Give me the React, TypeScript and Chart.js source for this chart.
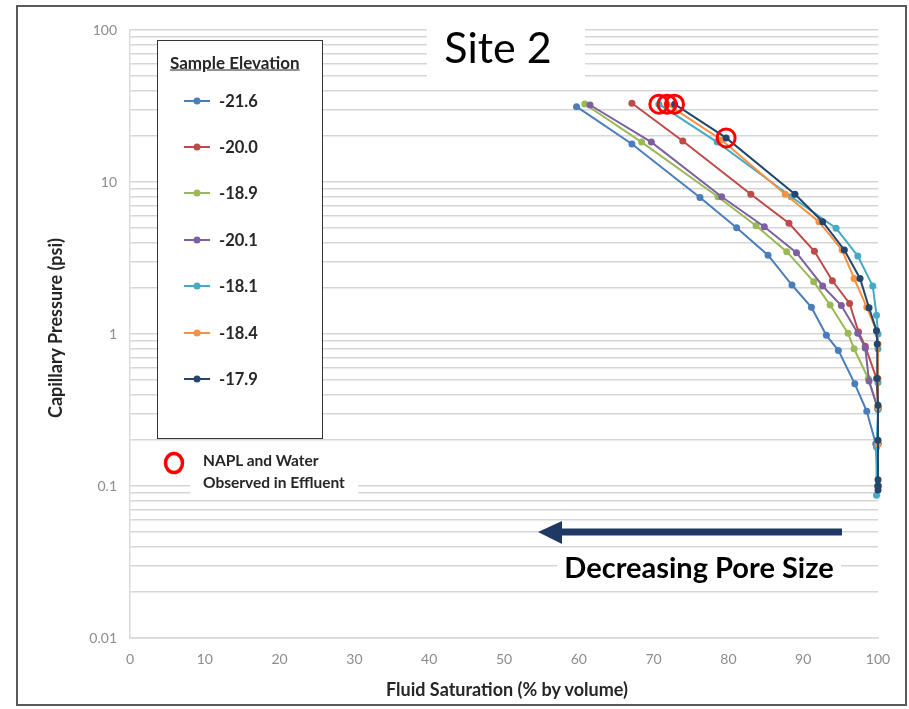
import React, { useEffect, useRef } from "react";
import { Chart, registerables } from "chart.js";

Chart.register(...registerables);

// ---------- data ----------
const seriesNames = ["-21.6", "-20.0", "-18.9", "-20.1", "-18.1", "-18.4", "-17.9"];
const seriesColors = ["#4A7EBB", "#BE4B48", "#98B954", "#7D60A0", "#46AAC5", "#F69240", "#23466F"];

const sat216 = [59.7, 67.1, 76.2, 81.1, 85.3, 88.5, 91.1, 93.1, 94.7, 96.9, 98.5, 99.7, 100];
const psi216 = [31.3, 17.8, 7.9, 5.0, 3.3, 2.1, 1.5, 0.98, 0.78, 0.47, 0.31, 0.19, 0.1];

const sat200 = [67.1, 73.9, 83.0, 88.1, 91.5, 93.9, 96.2, 97.4, 98.3, 99.8, 100, 100, 100];
const psi200 = [33.0, 18.6, 8.3, 5.35, 3.5, 2.24, 1.59, 1.03, 0.83, 0.51, 0.33, 0.19, 0.1];

const sat189 = [60.8, 68.4, 78.6, 83.7, 87.8, 91.4, 93.6, 96.0, 96.8, 98.7, 100, 100, 100];
const psi189 = [32.6, 18.3, 8.0, 5.16, 3.48, 2.21, 1.55, 1.01, 0.8, 0.51, 0.32, 0.19, 0.1];

const sat201 = [61.5, 69.7, 79.1, 84.8, 89.1, 92.6, 95.1, 97.3, 98.3, 98.8, 100, 100, 100];
const psi201 = [32.1, 18.3, 8.0, 5.08, 3.43, 2.07, 1.54, 1.01, 0.81, 0.49, 0.32, 0.19, 0.1];

const sat181 = [70.7, 78.5, 88.4, 94.4, 97.3, 99.3, 99.8, 100, 100, 100, 100, 99.8, 99.8];
const psi181 = [32.5, 18.3, 8.0, 4.96, 3.26, 2.07, 1.33, 1.0, 0.8, 0.48, 0.32, 0.18, 0.087];

const sat184 = [71.8, 79.1, 87.6, 92.1, 95.2, 96.8, 98.5, 99.8, 100, 100, 100, 100, 100];
const psi184 = [32.5, 18.9, 8.3, 5.48, 3.57, 2.32, 1.5, 1.05, 0.86, 0.51, 0.33, 0.19, 0.1];

const sat179 = [72.8, 79.7, 88.9, 92.6, 95.5, 97.6, 98.8, 99.8, 99.9, 99.9, 100, 100, 100, 100, 100];
const psi179 = [32.5, 19.5, 8.3, 5.48, 3.57, 2.32, 1.49, 1.05, 0.86, 0.51, 0.34, 0.2, 0.11, 0.1, 0.094];

const naplSat = [70.7, 71.8, 72.8, 79.7];
const naplPsi = [32.5, 32.5, 32.5, 19.5];

const xTickStep = 10;
const yDecades = [0.01, 0.1, 1, 10, 100];
const yTickLabels = ["0.01", "0.1", "1", "10", "100"];

const seriesSat = [sat216, sat200, sat189, sat201, sat181, sat184, sat179];
const seriesPsi = [psi216, psi200, psi189, psi201, psi181, psi184, psi179];

// y gridline values 1..9 x each decade
const yTickValues: number[] = [];
for (let i = 0; i < yDecades.length - 1; i++) {
  for (let m = 1; m <= 9; m++) yTickValues.push(Number((m * yDecades[i]).toPrecision(6)));
}
yTickValues.push(yDecades[yDecades.length - 1]);

const toPoints = (xs: number[], ys: number[]) => xs.map((x, i) => ({ x, y: ys[i] }));

const FONT = "Lato, 'Open Sans', sans-serif";
const TEXT = "#262626";

export default function App() {
  const canvasRef = useRef<HTMLCanvasElement | null>(null);

  useEffect(() => {
    if (!canvasRef.current) return;
    const seriesDatasets = seriesNames.map((name, i) => ({
      label: name,
      data: toPoints(seriesSat[i], seriesPsi[i]),
      showLine: true,
      borderColor: seriesColors[i],
      backgroundColor: seriesColors[i],
      pointBackgroundColor: seriesColors[i],
      pointBorderColor: seriesColors[i],
      borderWidth: 2,
      pointRadius: 3.5,
      pointBorderWidth: 0,
      tension: 0,
      clip: false as any,
    }));
    const ordered = [...seriesDatasets].reverse();
    const chart = new Chart(canvasRef.current, {
      type: "scatter",
      data: {
        datasets: [
          {
            label: "NAPL and Water Observed in Effluent",
            data: toPoints(naplSat, naplPsi),
            showLine: false,
            pointRadius: 9,
            pointBorderWidth: 3,
            pointBorderColor: "#FF0000",
            pointBackgroundColor: "rgba(0,0,0,0)",
            borderColor: "#FF0000",
            backgroundColor: "rgba(0,0,0,0)",
            clip: false as any,
          },
          ...ordered,
        ] as any,
      },
      options: {
        animation: false,
        responsive: false,
        maintainAspectRatio: false,
        devicePixelRatio: 1,
        layout: { padding: { top: 30, right: 31, left: 0, bottom: 0 } },
        plugins: {
          legend: { display: false },
          tooltip: { enabled: false },
          title: { display: false },
        },
        scales: {
          x: {
            type: "linear",
            min: 0,
            max: 100,
            ticks: {
              stepSize: xTickStep,
              color: "#8c8c8c",
              font: { family: FONT, size: 14 },
              padding: 13,
              maxRotation: 0,
            },
            grid: { display: false, drawTicks: false },
            border: { color: "#d9d9d9", width: 1.5 },
            afterFit: (s: any) => {
              s.height = 71;
            },
          },
          y: {
            type: "logarithmic",
            min: yDecades[0],
            max: yDecades[yDecades.length - 1],
            afterBuildTicks: (s: any) => {
              s.ticks = yTickValues.map((v) => ({ value: v }));
            },
            ticks: {
              autoSkip: false,
              color: "#8c8c8c",
              font: { family: FONT, size: 14 },
              padding: 13,
              callback: (v: any) => {
                const idx = yDecades.findIndex((d) => Math.abs(d - Number(v)) < d * 1e-6);
                return idx >= 0 ? yTickLabels[idx] : "";
              },
            },
            grid: { color: "#d6d6d6", lineWidth: 1.6, drawTicks: false },
            border: { color: "#d9d9d9", width: 1.5 },
            afterFit: (s: any) => {
              s.width = 130;
            },
          },
        },
      } as any,
    });
    return () => chart.destroy();
  }, []);

  const legendY0 = 100.5;
  const legendStep = 46.4;

  return (
    <div
      style={{
        position: "fixed",
        left: 0,
        top: 0,
        width: 909,
        height: 709,
        background: "#fff",
        overflow: "hidden",
        fontFamily: FONT,
      }}
    >
      <canvas
        ref={canvasRef}
        width={909}
        height={709}
        style={{ position: "absolute", left: 0, top: 0, width: 909, height: 709 }}
      />

      {/* outer frame */}
      <div
        style={{
          position: "absolute",
          left: 16,
          top: 5,
          width: 891,
          height: 701,
          border: "2px solid #5a5a5a",
          boxSizing: "border-box",
        }}
      />

      {/* Y axis title */}
      <div
        style={{
          position: "absolute",
          left: 55,
          top: 328,
          transform: "translate(-50%, -50%) rotate(-90deg)",
          whiteSpace: "nowrap",
          fontWeight: 700,
          fontSize: 18,
          color: TEXT,
        }}
      >
        Capillary Pressure (psi)
      </div>

      {/* X axis title */}
      <div
        style={{
          position: "absolute",
          left: 507,
          top: 689,
          transform: "translate(-50%, -50%)",
          whiteSpace: "nowrap",
          fontWeight: 700,
          fontSize: 18,
          color: TEXT,
        }}
      >
        Fluid Saturation (% by volume)
      </div>

      {/* Site 2 */}
      <div
        style={{
          position: "absolute",
          left: 427,
          top: 7,
          width: 158,
          height: 71,
          background: "#fff",
        }}
      />
      <div
        style={{
          position: "absolute",
          left: 498,
          top: 46,
          transform: "translate(-50%, -50%)",
          fontSize: 43,
          color: "#000",
          whiteSpace: "nowrap",
        }}
      >
        Site 2
      </div>

      {/* Legend box */}
      <div
        style={{
          position: "absolute",
          left: 157,
          top: 40,
          width: 166,
          height: 399,
          background: "#fff",
          border: "1.8px solid #333",
          boxSizing: "border-box",
        }}
      />
      <div
        style={{
          position: "absolute",
          left: 170,
          top: 62,
          transform: "translateY(-50%)",
          fontWeight: 700,
          fontSize: 17,
          textDecoration: "underline",
          color: TEXT,
          whiteSpace: "nowrap",
        }}
      >
        Sample Elevation
      </div>
      {seriesNames.map((name, i) => {
        const cy = legendY0 + i * legendStep;
        return (
          <div key={name}>
            <svg
              style={{ position: "absolute", left: 183, top: cy - 5 }}
              width={28}
              height={10}
            >
              <line x1={1} y1={5} x2={27} y2={5} stroke={seriesColors[i]} strokeWidth={2} />
              <circle cx={14} cy={5} r={3.5} fill={seriesColors[i]} />
            </svg>
            <div
              style={{
                position: "absolute",
                left: 219,
                top: cy,
                transform: "translateY(-50%)",
                fontWeight: 700,
                fontSize: 16.5,
                color: TEXT,
                whiteSpace: "nowrap",
              }}
            >
              {name}
            </div>
          </div>
        );
      })}

      {/* NAPL legend */}
      <div
        style={{
          position: "absolute",
          left: 190,
          top: 447,
          width: 168,
          height: 50,
          background: "#fff",
        }}
      />
      <svg style={{ position: "absolute", left: 159, top: 448 }} width={30} height={32}>
        <ellipse cx={15} cy={15} rx={8.5} ry={9.5} fill="none" stroke="#FF0000" strokeWidth={3.5} />
      </svg>
      <div
        style={{
          position: "absolute",
          left: 203,
          top: 460,
          transform: "translateY(-50%)",
          fontWeight: 700,
          fontSize: 15.5,
          color: TEXT,
          whiteSpace: "nowrap",
        }}
      >
        NAPL and Water
      </div>
      <div
        style={{
          position: "absolute",
          left: 203,
          top: 482,
          transform: "translateY(-50%)",
          fontWeight: 700,
          fontSize: 15.5,
          color: TEXT,
          whiteSpace: "nowrap",
        }}
      >
        Observed in Effluent
      </div>

      {/* Arrow */}
      <svg style={{ position: "absolute", left: 530, top: 515 }} width={320} height={35}>
        <rect x={28} y={13.5} width={284} height={7} fill="#1F3864" />
        <polygon points="8,17 32,6 32,29" fill="#1F3864" />
      </svg>

      {/* Decreasing Pore Size */}
      <div
        style={{
          position: "absolute",
          left: 557,
          top: 549,
          width: 284,
          height: 34,
          background: "#fff",
          display: "flex",
          alignItems: "center",
          justifyContent: "center",
          fontWeight: 700,
          fontSize: 29,
          color: "#000",
          whiteSpace: "nowrap",
        }}
      >
        Decreasing Pore Size
      </div>
    </div>
  );
}
